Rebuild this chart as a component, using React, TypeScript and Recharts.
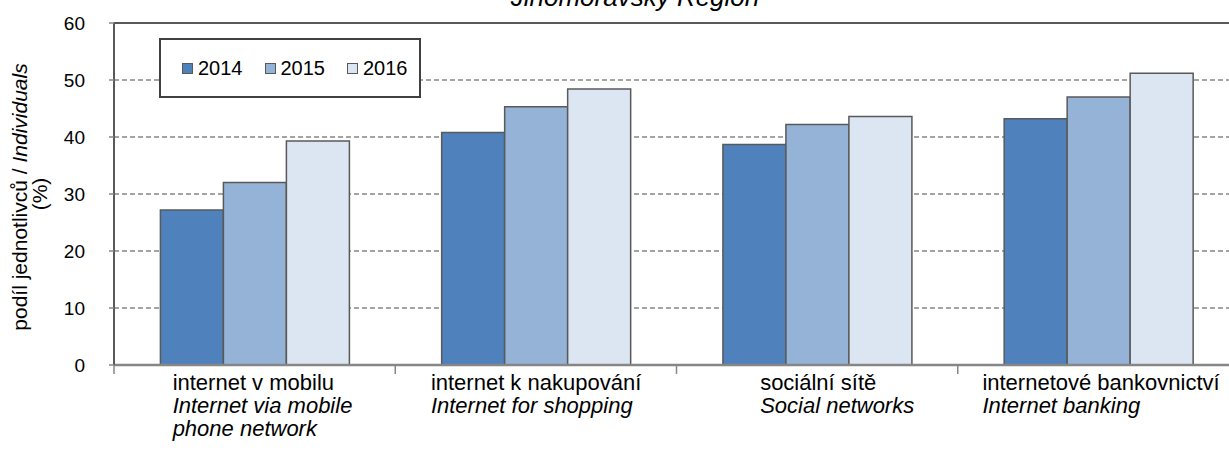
import React from 'react';
import { BarChart, Bar, XAxis, YAxis, CartesianGrid, Legend, ReferenceLine } from 'recharts';

// data
const categoriesCz = ['internet v mobilu', 'internet k nakupování', 'sociální sítě', 'internetové bankovnictví'];
const categoriesEn = [['Internet via mobile', 'phone network'], ['Internet for shopping'], ['Social networks'], ['Internet banking']];
const values2014 = [27.2, 40.8, 38.7, 43.2];
const values2015 = [32.0, 45.3, 42.2, 47.0];
const values2016 = [39.3, 48.4, 43.6, 51.2];
const yTicks = [0, 10, 20, 30, 40, 50, 60];

const seriesList = [
  { key: 'y2014', name: '2014', color: '#4F81BD' },
  { key: 'y2015', name: '2015', color: '#95B3D7' },
  { key: 'y2016', name: '2016', color: '#DCE6F2' },
];

const chartData = categoriesCz.map((name, i) => ({
  name,
  y2014: values2014[i],
  y2015: values2015[i],
  y2016: values2016[i],
}));

const CHART_W = 1245;
const CHART_H = 466;
const Y_AXIS_W = 114;
const MARGIN = { top: 23, right: 6, bottom: 0, left: 0 };
const BAND = (CHART_W - Y_AXIS_W - MARGIN.right - MARGIN.left) / categoriesCz.length;
// left edge of each label block relative to category centre
const labelShift = [-82, -105, -57, -116];
const FONT = '"Liberation Sans", Arial, sans-serif';

const CategoryTick = (props: any) => {
  const { x, y, payload, index } = props;
  const left = x + labelShift[index];
  const enLines = categoriesEn[index] || [];
  return (
    <g>
      <line x1={x - BAND / 2} x2={x - BAND / 2} y1={y} y2={y + 9} stroke="#868686" strokeWidth={1.5} />
      {index === categoriesCz.length - 1 && (
        <line x1={x + BAND / 2} x2={x + BAND / 2} y1={y} y2={y + 9} stroke="#868686" strokeWidth={1.5} />
      )}
      <text x={left} y={y + 25} textAnchor="start" fontSize={22} fill="#000" fontFamily={FONT}>
        {payload.value}
      </text>
      {enLines.map((line, i) => (
        <text
          key={line}
          x={left}
          y={y + 48 + i * 23}
          textAnchor="start"
          fontSize={22}
          fontStyle="italic"
          fill="#000"
          fontFamily={FONT}
        >
          {line}
        </text>
      ))}
    </g>
  );
};

const YLabel = () => (
  <g fontFamily={FONT} fontSize={21} fill="#000">
    <text transform="translate(27, 197) rotate(-90)" textAnchor="middle">
      podíl jednotlivců / <tspan fontStyle="italic">Individuals</tspan>
    </text>
    <text transform="translate(47, 194) rotate(-90)" textAnchor="middle">
      (%)
    </text>
  </g>
);

const LegendBox = () => (
  <div
    style={{
      boxSizing: 'border-box',
      width: 262,
      height: 60,
      border: '2px solid #404040',
      background: '#fff',
      display: 'flex',
      alignItems: 'center',
      paddingLeft: 21,
      fontFamily: FONT,
      fontSize: 20,
      color: '#000',
    }}
  >
    {seriesList.map(s => (
      <div key={s.key} style={{ display: 'flex', alignItems: 'center', marginRight: 22 }}>
        <span
          style={{
            display: 'inline-block',
            width: 11,
            height: 11,
            background: s.color,
            border: '1.5px solid #595959',
            boxSizing: 'border-box',
            marginRight: 5,
          }}
        />
        <span>{s.name}</span>
      </div>
    ))}
  </div>
);

export default function App() {
  return (
    <div
      style={{
        position: 'absolute',
        left: 0,
        top: 0,
        width: 1229,
        height: 466,
        overflow: 'hidden',
        background: '#fff',
      }}
    >
      <div
        style={{
          position: 'absolute',
          left: 0,
          width: 1270,
          top: -16,
          textAlign: 'center',
          fontFamily: FONT,
          fontStyle: 'italic',
          fontSize: 26,
          lineHeight: '26px',
          color: '#000',
        }}
      >
        Jihomoravský Region
      </div>
      <BarChart
        width={CHART_W}
        height={CHART_H}
        data={chartData}
        margin={MARGIN}
        barCategoryGap="16.5%"
        barGap={0}
      >
        <CartesianGrid vertical={false} stroke="#868686" strokeWidth={1.5} strokeDasharray="5 3" />
        <XAxis
          dataKey="name"
          height={101}
          tickLine={false}
          tickSize={0}
          tickMargin={0}
          interval={0}
          axisLine={{ stroke: '#868686', strokeWidth: 2.5 }}
          tick={<CategoryTick />}
        />
        <YAxis
          width={Y_AXIS_W}
          domain={[0, 60]}
          ticks={yTicks}
          interval={0}
          tickSize={5}
          tickMargin={24}
          axisLine={{ stroke: '#595959', strokeWidth: 2 }}
          tickLine={{ stroke: '#868686', strokeWidth: 1.5 }}
          tick={{ fontSize: 19, fill: '#000', fontFamily: FONT }}
          label={<YLabel />}
        />
        <ReferenceLine y={60} stroke="#595959" strokeWidth={2} />
        {seriesList.map(s => (
          <Bar
            key={s.key}
            dataKey={s.key}
            name={s.name}
            fill={s.color}
            stroke="#595959"
            strokeWidth={1.5}
            isAnimationActive={false}
          />
        ))}
        <Legend
          layout="horizontal"
          verticalAlign="middle"
          align="center"
          content={<LegendBox />}
          wrapperStyle={{ left: 159, top: 38, width: 262, height: 60 }}
        />
      </BarChart>
    </div>
  );
}
